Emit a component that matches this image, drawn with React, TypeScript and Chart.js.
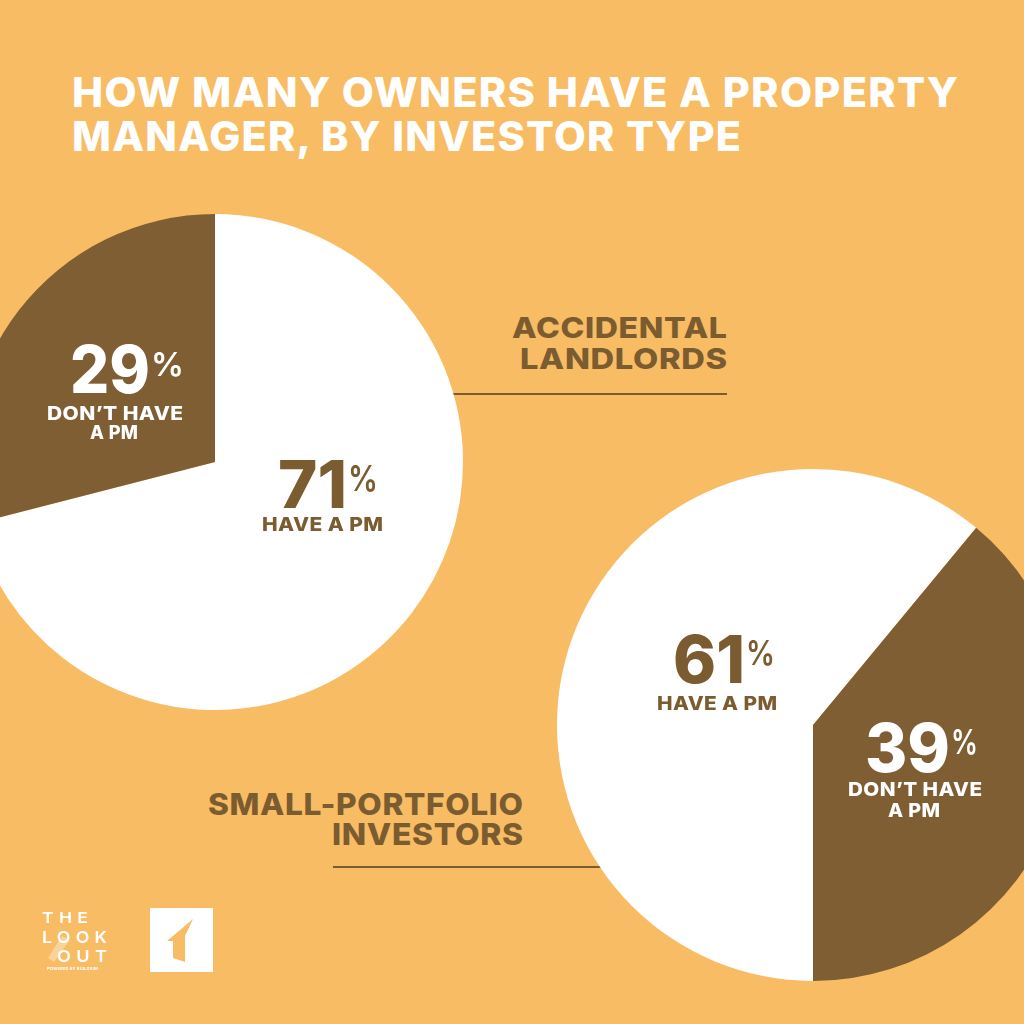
import React, { useEffect, useLayoutEffect, useRef } from 'react';
import { Chart, registerables } from 'chart.js';

Chart.register(...registerables);

// ---- data ----
const pieLabels = ['Have a PM', "Don't have a PM"];
const accidentalLandlordsValues = [71, 29];
const smallPortfolioValues = [61, 39];
const sliceColors = ['#FFFFFF', '#7E5E32'];
const titleLines = ['HOW MANY OWNERS HAVE A PROPERTY', 'MANAGER, BY INVESTOR TYPE'];
const groupLabels = [['ACCIDENTAL', 'LANDLORDS'], ['SMALL-PORTFOLIO', 'INVESTORS']];
const haveText = 'HAVE A PM';
const dontHaveText = ['DON\u2019T HAVE', 'A PM'];

const BG = '#F8BC64';
const BROWN = '#7B5B30';
const FONT = 'Inter, "Open Sans", Lato, sans-serif';

type PieProps = { values: number[]; rotation: number; left: number; top: number; size: number };

function PieCanvas({ values, rotation, left, top, size }: PieProps) {
  const ref = useRef<HTMLCanvasElement | null>(null);
  useEffect(() => {
    const chart = new Chart(ref.current as HTMLCanvasElement, {
      type: 'pie',
      data: {
        labels: pieLabels,
        datasets: [{ data: values, backgroundColor: sliceColors, borderWidth: 0, hoverOffset: 0 }],
      },
      options: {
        responsive: false,
        maintainAspectRatio: false,
        animation: false,
        rotation,
        layout: { padding: 2 },
        events: [],
        plugins: { legend: { display: false }, tooltip: { enabled: false } },
      },
    });
    return () => chart.destroy();
  }, []);
  return (
    <canvas
      ref={ref}
      width={size}
      height={size}
      style={{ position: 'absolute', left, top, width: size, height: size }}
    />
  );
}

type FitProps = {
  text: string; x: number; capTop: number; capH: number; w: number; color: string;
  weight?: number; spacing?: number;
};

// Text fitted to the reference width: optional base letter-spacing (em), then horizontal scale.
function Fit({ text, x, capTop, capH, w, color, weight = 800, spacing = 0.02 }: FitProps) {
  const ref = useRef<HTMLDivElement | null>(null);
  const fs = capH / 0.727;
  useLayoutEffect(() => {
    const el = ref.current as HTMLDivElement;
    const fit = () => {
      el.style.transform = 'none';
      const n = Array.from(text).length;
      const nat = el.getBoundingClientRect().width - (n > 0 ? spacing * fs : 0);
      const s = nat > 0 ? w / nat : 1;
      el.style.transform = `scaleX(${s})`;
    };
    fit();
    if ((document as any).fonts) (document as any).fonts.ready.then(fit);
  }, [text, w]);
  return (
    <div
      ref={ref}
      style={{
        position: 'absolute',
        left: x,
        top: capTop - 0.1363 * fs,
        fontFamily: FONT,
        fontWeight: weight,
        fontSize: fs,
        lineHeight: `${fs}px`,
        letterSpacing: `${spacing}em`,
        color,
        whiteSpace: 'pre',
        transformOrigin: '0 0',
      }}
    >
      {text}
    </div>
  );
}

export default function App() {
  return (
    <div
      style={{
        position: 'fixed',
        left: 0,
        top: 0,
        width: 1024,
        height: 1024,
        overflow: 'hidden',
        background: BG,
      }}
    >
      {/* rule lines (behind pies) */}
      <div style={{ position: 'absolute', left: 430, top: 393, width: 297, height: 2, background: BROWN }} />
      <div style={{ position: 'absolute', left: 333, top: 866, width: 290, height: 2, background: BROWN }} />

      {/* pies */}
      <PieCanvas values={accidentalLandlordsValues} rotation={0} left={215 - 250} top={462 - 250} size={500} />
      <PieCanvas values={smallPortfolioValues} rotation={180} left={813 - 258} top={725 - 258} size={516} />

      {/* title */}
      <Fit text={titleLines[0]} x={72} capTop={78} capH={30} w={886} color="#FFFFFF" spacing={0.03} />
      <Fit text={titleLines[1]} x={72} capTop={122} capH={30} w={669} color="#FFFFFF" spacing={0.03} />

      {/* group labels */}
      <Fit text={groupLabels[0][0]} x={512} capTop={318} capH={21} w={215} color={BROWN} />
      <Fit text={groupLabels[0][1]} x={520} capTop={349} capH={21} w={207} color={BROWN} />
      <Fit text={groupLabels[1][0]} x={208} capTop={793} capH={22} w={315} color={BROWN} />
      <Fit text={groupLabels[1][1]} x={332} capTop={823} capH={22} w={191} color={BROWN} />

      {/* pie 1 labels */}
      <Fit text={String(accidentalLandlordsValues[1])} x={70} capTop={345} capH={48} w={80} color="#FFFFFF" spacing={0} />
      <Fit text="%" x={151} capTop={352} capH={24} w={33} color="#FFFFFF" weight={600} spacing={0} />
      <Fit text={dontHaveText[0]} x={47} capTop={407} capH={13.5} w={136} color="#FFFFFF" />
      <Fit text={dontHaveText[1]} x={90} capTop={426} capH={13.5} w={48} color="#FFFFFF" />

      <Fit text={String(accidentalLandlordsValues[0])} x={278} capTop={460} capH={48} w={69} color={BROWN} spacing={0} />
      <Fit text="%" x={348} capTop={466} capH={26} w={30} color={BROWN} weight={600} spacing={0} />
      <Fit text={haveText} x={262} capTop={518} capH={14} w={121} color={BROWN} />

      {/* pie 2 labels */}
      <Fit text={String(smallPortfolioValues[0])} x={673} capTop={635} capH={48} w={72} color={BROWN} spacing={0} />
      <Fit text="%" x={746} capTop={641} capH={25} w={29} color={BROWN} weight={600} spacing={0} />
      <Fit text={haveText} x={657} capTop={697} capH={13.5} w={120} color={BROWN} />

      <Fit text={String(smallPortfolioValues[1])} x={865} capTop={723} capH={49} w={85} color="#FFFFFF" spacing={0} />
      <Fit text="%" x={951} capTop={730} capH={25} w={27} color="#FFFFFF" weight={600} spacing={0} />
      <Fit text={dontHaveText[0]} x={848} capTop={783} capH={14} w={134} color="#FFFFFF" />
      <Fit text={dontHaveText[1]} x={888} capTop={804} capH={14} w={52} color="#FFFFFF" />

      {/* logo */}
      <svg width={1024} height={1024} style={{ position: 'absolute', left: 0, top: 0 }}>
        <polygon points="62,936 70,940 54,962 48,958" fill="#FFFFFF" opacity={0.35} />
        <rect x={150} y={908} width={63} height={64} fill="#FFFFFF" />
        <polygon points="193,919 167,941 173,941 173,958 185,962 185,936" fill={BG} />
      </svg>
      <Fit text="THE" x={42} capTop={912} capH={11} w={46} color="#FFFFFF" weight={600} spacing={0.3} />
      <Fit text="LOOK" x={42} capTop={931} capH={12} w={65} color="#FFFFFF" weight={600} spacing={0.3} />
      <Fit text="OUT" x={57} capTop={950} capH={12} w={50} color="#FFFFFF" weight={600} spacing={0.3} />
      <Fit text="POWERED BY BUILDIUM" x={47} capTop={968} capH={2.6} w={51} color="#FFFFFF" weight={700} />
    </div>
  );
}
